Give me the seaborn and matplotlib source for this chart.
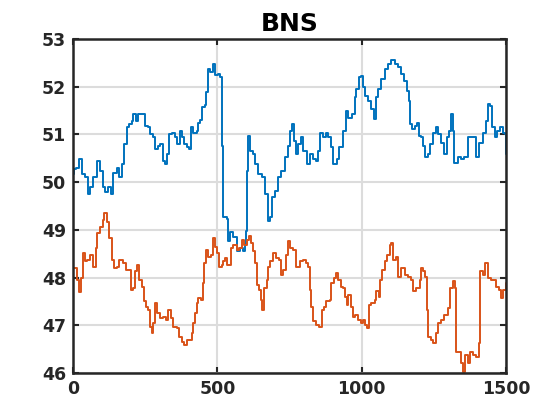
import matplotlib
matplotlib.use("Agg")
import matplotlib.pyplot as plt
import pandas as pd
import seaborn as sns

# values
blue_t = [0, 5, 12, 22, 30, 42, 53, 60, 70, 82, 94, 103, 111, 122, 130, 137, 151, 160, 169, 178,
          186, 195, 203, 209, 218, 226, 238, 249, 261, 267, 278, 284, 296, 301, 313, 319, 324, 334,
          342, 353, 361, 371, 376, 384, 394, 403, 409, 417, 428, 434, 440, 446, 457, 461, 466, 474,
          486, 492, 503, 509, 512, 515, 518, 532, 537, 543, 555, 567, 578, 590, 595, 599, 603, 607,
          613, 622, 630, 642, 653, 665, 676, 682, 688, 699, 711, 722, 734, 745, 753, 757, 764, 771,
          780, 791, 797, 809, 820, 832, 843, 849, 855, 866, 878, 884, 892, 901, 913, 922, 936, 945,
          953, 968, 976, 982, 991, 996, 1003, 1011, 1023, 1034, 1043, 1051, 1057, 1068, 1080, 1091,
          1103, 1114, 1126, 1135, 1147, 1158, 1164, 1168, 1174, 1183, 1193, 1198, 1206, 1212, 1221,
          1229, 1237, 1246, 1258, 1263, 1275, 1286, 1294, 1304, 1309, 1315, 1321, 1332, 1344, 1355,
          1367, 1384, 1396, 1407, 1419, 1430, 1436, 1444, 1453, 1462, 1470, 1480, 1490, 1496, 1500]
blue_v = [50.17, 50.27, 50.3, 50.48, 50.17, 50.1, 49.75, 49.9, 50.1, 50.45, 50.24, 49.9, 49.8, 49.9,
          49.75, 50.2, 50.3, 50.1, 50.38, 50.8, 51.15, 51.22, 51.29, 51.43, 51.29, 51.43, 51.43,
          51.18, 51.15, 51.0, 50.94, 50.7, 50.76, 50.8, 50.45, 50.38, 50.59, 51.0, 51.04, 50.94, 50.8,
          51.08, 50.94, 50.8, 50.73, 50.7, 51.15, 51.04, 51.08, 51.25, 51.3, 51.57, 51.62, 51.88,
          52.37, 52.3, 52.47, 52.25, 52.27, 52.2, 52.2, 50.76, 49.26, 49.23, 48.77, 48.95, 48.84,
          48.56, 48.63, 48.56, 48.7, 48.98, 50.24, 50.97, 50.66, 50.59, 50.38, 50.17, 50.1, 49.75,
          49.19, 49.26, 49.68, 49.82, 50.1, 50.24, 50.52, 50.76, 51.08, 51.22, 50.87, 50.59, 50.8,
          50.94, 50.66, 50.38, 50.59, 50.48, 50.45, 50.66, 51.04, 50.94, 51.04, 50.94, 50.73, 50.38,
          50.48, 50.73, 51.08, 51.5, 51.34, 51.43, 51.78, 51.95, 52.2, 52.23, 51.99, 51.81, 51.71,
          51.53, 51.32, 51.78, 51.95, 52.16, 52.37, 52.48, 52.55, 52.48, 52.41, 52.27, 52.13, 51.92,
          51.71, 51.22, 51.11, 51.18, 51.25, 50.97, 50.94, 50.76, 50.52, 50.59, 50.8, 51.04, 51.15,
          51.0, 50.83, 50.59, 50.94, 51.08, 51.43, 51.08, 50.41, 50.52, 50.48, 50.52, 50.94, 50.94,
          50.52, 50.83, 51.04, 51.29, 51.64, 51.6, 51.15, 50.94, 51.08, 51.15, 51.04, 51.0, 50.59]

orange_t = [0, 10, 15, 22, 27, 33, 42, 50, 59, 70, 80, 84, 94, 103, 109, 117, 126, 134, 142, 151,
            160, 172, 183, 192, 200, 207, 215, 221, 230, 238, 246, 253, 261, 267, 273, 278, 284,
            292, 301, 313, 322, 330, 338, 348, 359, 368, 376, 385, 394, 403, 411, 417, 423, 428,
            434, 442, 449, 455, 461, 469, 477, 484, 492, 498, 506, 515, 521, 526, 534, 541, 547,
            555, 567, 576, 584, 592, 601, 609, 615, 624, 630, 636, 645, 651, 654, 661, 671, 676,
            684, 693, 703, 714, 722, 728, 737, 745, 753, 763, 774, 786, 797, 807, 815, 821, 826,
            832, 843, 853, 861, 869, 878, 890, 895, 903, 910, 918, 927, 934, 942, 948, 953, 962,
            969, 976, 988, 996, 1003, 1011, 1019, 1026, 1034, 1046, 1051, 1061, 1065, 1072, 1080,
            1088, 1097, 1103, 1109, 1118, 1126, 1137, 1149, 1160, 1172, 1178, 1189, 1201, 1206,
            1212, 1221, 1225, 1230, 1241, 1246, 1256, 1263, 1275, 1286, 1298, 1306, 1315, 1322,
            1327, 1336, 1344, 1350, 1359, 1367, 1375, 1384, 1396, 1405, 1410, 1419, 1428, 1436,
            1448, 1459, 1467, 1474, 1482, 1488, 1500]
orange_v = [48.2, 48.2, 47.95, 47.7, 47.99, 48.51, 48.34, 48.37, 48.48, 48.23, 48.62, 48.93, 49.07,
            49.21, 49.35, 49.17, 48.83, 48.37, 48.2, 48.23, 48.37, 48.3, 48.16, 48.16, 47.74, 47.78,
            48.13, 48.27, 47.95, 47.81, 47.5, 47.39, 47.32, 46.97, 46.83, 47.04, 47.46, 47.25, 47.15,
            47.18, 47.11, 47.32, 47.15, 46.97, 46.94, 46.76, 46.66, 46.59, 46.69, 46.69, 46.83, 47.04,
            47.25, 47.46, 47.57, 47.53, 47.88, 48.3, 48.58, 48.44, 48.48, 48.83, 48.65, 48.51, 48.23,
            48.27, 48.34, 48.41, 48.27, 48.27, 48.62, 48.69, 48.58, 48.62, 48.79, 48.69, 48.79, 48.87,
            48.72, 48.55, 48.3, 47.85, 47.74, 47.53, 47.32, 47.78, 47.95, 48.23, 48.34, 48.51, 48.41,
            48.37, 48.06, 48.16, 48.48, 48.76, 48.62, 48.58, 48.23, 48.34, 48.37, 48.3, 48.23, 47.74,
            47.39, 47.08, 47.01, 46.97, 47.32, 47.39, 47.5, 47.53, 47.88, 47.99, 48.09, 47.95, 47.81,
            47.78, 47.6, 47.43, 47.64, 47.39, 47.18, 47.22, 47.11, 47.04, 47.11, 47.01, 46.94, 47.43,
            47.46, 47.53, 47.71, 47.6, 47.95, 48.16, 48.34, 48.48, 48.69, 48.72, 48.37, 48.44, 48.02,
            48.2, 48.06, 48.02, 47.95, 47.71, 47.78, 47.95, 48.2, 48.13, 48.02, 47.32, 46.76, 46.69,
            46.62, 46.83, 47.04, 47.11, 47.22, 47.36, 47.78, 47.92, 47.78, 46.45, 46.45, 46.2, 46.03,
            46.38, 46.2, 46.45, 46.38, 46.34, 46.62, 48.13, 48.06, 48.3, 47.99, 47.95, 47.95, 47.81,
            47.74, 47.57, 47.74, 47.88]

X_TICKS = [0, 500, 1000, 1500]
Y_TICKS = [46, 47, 48, 49, 50, 51, 52, 53]
TITLE = "BNS"

sns.set_style("white")
plt.rcParams["font.family"] = ["DejaVu Sans"]
plt.rcParams["font.weight"] = "bold"

df = pd.concat([
    pd.DataFrame({"t": blue_t, "v": blue_v, "s": "a"}),
    pd.DataFrame({"t": orange_t, "v": orange_v, "s": "b"}),
])

fig = plt.figure(figsize=(5.6, 4.2), dpi=100)
ax = fig.add_axes([0.1304, 0.1119, 0.7732, 0.7952])
sns.lineplot(data=df, x="t", y="v", hue="s", palette=["#0072BD", "#D95319"],
             estimator=None, sort=False, linewidth=1.4, legend=False,
             drawstyle="steps-post", ax=ax)

ax.set_xlim(0, 1500)
ax.set_ylim(46, 53)
ax.set_xticks(X_TICKS)
ax.set_yticks(Y_TICKS)
ax.set_xlabel("")
ax.set_ylabel("")
ax.grid(True, color="#dcdcdc", linewidth=1.5)
ax.set_axisbelow(True)
ax.tick_params(direction="in", length=4, width=1.5, color="#262626",
               labelsize=12.5, labelcolor="#262626", top=True, right=True,
               bottom=True, left=True, pad=5)
for lbl in ax.get_xticklabels() + ax.get_yticklabels():
    lbl.set_fontweight("bold")
for sp in ax.spines.values():
    sp.set_visible(True)
    sp.set_color("#262626")
    sp.set_linewidth(1.8)
ax.set_title(TITLE, fontsize=18, fontweight="bold", color="black", pad=6)

fig.savefig("out.png", dpi=100)
